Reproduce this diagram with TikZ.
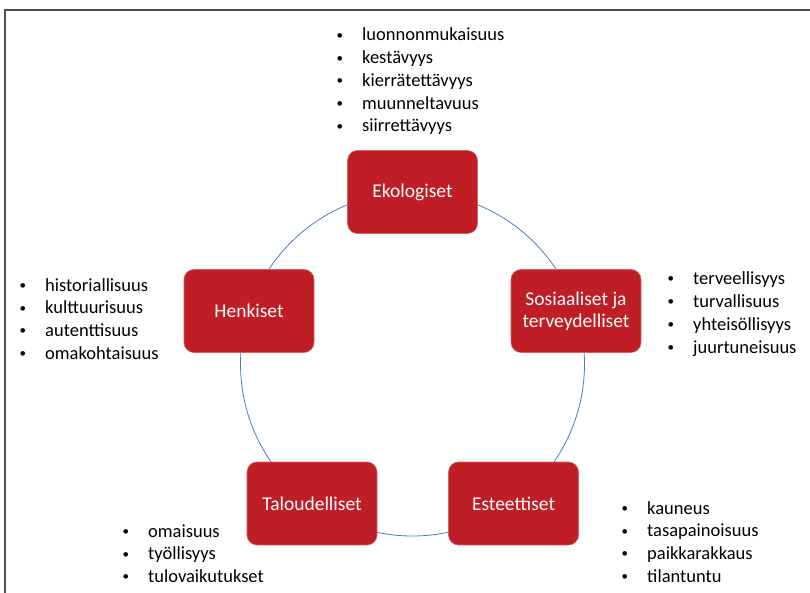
\documentclass[tikz,border=0pt]{standalone}
\usepackage{fontspec}
\setmainfont{Carlito}
\definecolor{boxred}{RGB}{192,30,38}
\definecolor{ringblue}{RGB}{74,126,187}
\definecolor{framegray}{RGB}{80,80,80}
\tikzset{
  valuebox/.style={draw=boxred!70!white,line width=0.6pt,fill=boxred,rounded corners=10pt,
    minimum width=130pt,minimum height=83pt,inner sep=2pt,align=center,
    text=white,font=\fontsize{19.5}{22}\selectfont},
  listitem/.style={anchor=base west,inner sep=0pt,font=\fontsize{18.5}{22}\selectfont},
}
\newcommand{\itembullet}{\llap{\raisebox{1.5pt}{\fontsize{13}{13}\selectfont\textbullet}\hspace{19pt}}}
\begin{document}
\begin{tikzpicture}[x=1pt,y=-1pt]
\useasboundingbox (0,0) rectangle (810,593);
% frame
\draw[framegray,line width=1.5pt] (5,593) -- (5,10) -- (810,10);
% ring
\coordinate (c) at (412.5,364);
\draw[ringblue,line width=0.8pt] (c) circle (172);
% boxes
\node[valuebox] (eko) at (412.5,192) {Ekologiset};
\node[valuebox] (sos) at (576,311) {Sosiaaliset ja\\terveydelliset};
\node[valuebox] (henk) at (249,311) {Henkiset};
\node[valuebox] (talo) at (312,503.5) {Taloudelliset};
\node[valuebox] (est) at (513.5,503.5) {Esteettiset};
% lists
\foreach \txt [count=\i] in {luonnonmukaisuus,kestävyys,kierrätettävyys,muunneltavuus,siirrettävyys}
  \node[listitem] (eko\i) at (362,{41+22.75*(\i-1)}) {\itembullet\txt};
\foreach \txt [count=\i] in {terveellisyys,turvallisuus,yhteisöllisyys,juurtuneisuus}
  \node[listitem] (sos\i) at (693,{284+23*(\i-1)}) {\itembullet\txt};
\foreach \txt [count=\i] in {historiallisuus,kulttuurisuus,autenttisuus,omakohtaisuus}
  \node[listitem] (henk\i) at (45,{291+22.7*(\i-1)}) {\itembullet\txt};
\foreach \txt [count=\i] in {omaisuus,työllisyys,tulovaikutukset}
  \node[listitem] (talo\i) at (148,{537+22.5*(\i-1)}) {\itembullet\txt};
\foreach \txt [count=\i] in {kauneus,tasapainoisuus,paikkarakkaus,tilantuntu}
  \node[listitem] (est\i) at (647,{514+22.7*(\i-1)}) {\itembullet\txt};
\end{tikzpicture}
\end{document}
